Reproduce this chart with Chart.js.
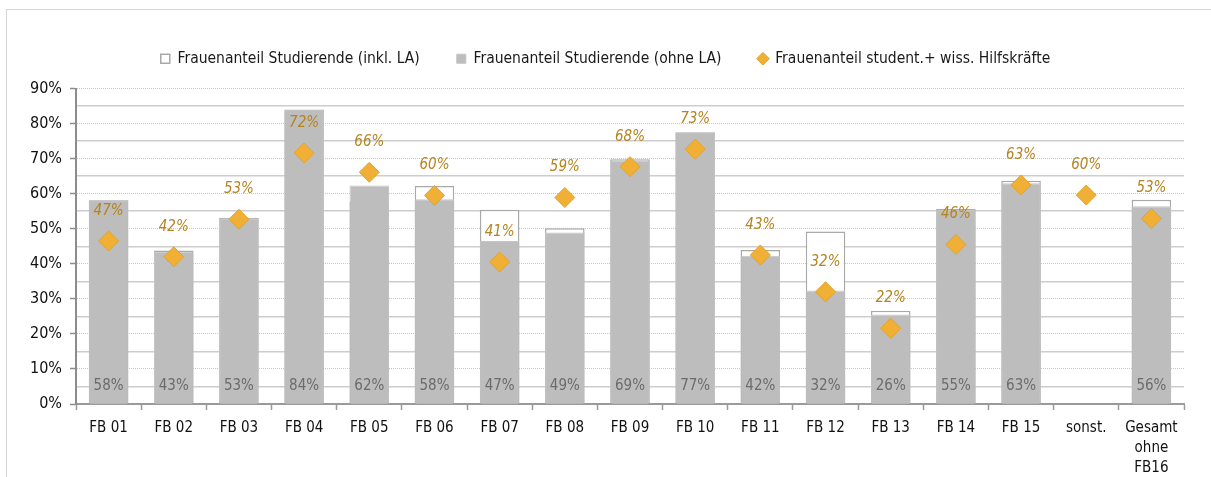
<!DOCTYPE html>
<html>
<head>
<meta charset="utf-8">
<script src="https://cdn.jsdelivr.net/npm/chart.js@4.4.1/dist/chart.umd.min.js"></script>
<style>
  html, body { margin: 0; padding: 0; background: #fff; }
  #wrap { position: relative; width: 1211px; height: 477px; }
  #frame { position: absolute; left: 6px; top: 9px; width: 1205px; height: 468px; border-top: 1px solid #d6d6d6; border-left: 1px solid #d6d6d6; pointer-events: none; }
</style>
</head>
<body>
<div id="wrap">
  <canvas id="genderChart" width="1211" height="477"></canvas>
  <div id="frame"></div>
</div>
<script>
// Frauenanteile je Fachbereich (in %)
const categories = ['FB 01', 'FB 02', 'FB 03', 'FB 04', 'FB 05', 'FB 06', 'FB 07', 'FB 08', 'FB 09',
    'FB 10', 'FB 11', 'FB 12', 'FB 13', 'FB 14', 'FB 15', 'sonst.', ['Gesamt', 'ohne', 'FB16']];
const studInklLA = [58.1, 43.8, 53.1, 84.0, 57.6, 62.2, 55.4, 50.1, 69.8, 77.5, 43.9, 49.2, 26.6, 55.6, 63.7, null, 58.3];
const studOhneLA = [58.1, 43.4, 53.0, 83.9, 62.3, 58.4, 46.5, 48.9, 69.4, 77.4, 42.3, 32.4, 25.5, 55.4, 63.0, null, 56.4];
const hilfskraefte = [46.5, 42.0, 52.7, 71.6, 66.1, 59.5, 40.5, 58.9, 67.7, 72.7, 42.5, 32.0, 21.6, 45.5, 62.5, 59.6, 52.9];
const yMax = 90;

const FONT = "'Liberation Sans Narrow', 'DejaVu Sans Condensed', sans-serif";

// etwas Luft zwischen Legende und Diagramm
const legendGap = {
    id: 'legendGap',
    beforeInit(chart) {
        const fit = chart.legend.fit;
        chart.legend.fit = function () {
            fit.call(this);
            this.height += 12;
        };
    }
};

// Prozentwerte in die Balken bzw. über die Rauten schreiben
const valueLabels = {
    id: 'valueLabels',
    afterDatasetsDraw(chart) {
        const ctx = chart.ctx;
        const yScale = chart.scales.y;
        ctx.save();
        ctx.textAlign = 'center';
        ctx.textBaseline = 'middle';

        ctx.font = '15px ' + FONT;
        ctx.fillStyle = '#6b6b6b';
        chart.getDatasetMeta(1).data.forEach((bar, i) => {
            const v = studOhneLA[i];
            if (v == null) return;
            ctx.fillText(Math.round(v) + '%', bar.x, yScale.bottom - 18);
        });

        ctx.font = 'italic 15px ' + FONT;
        ctx.fillStyle = '#b5831f';
        chart.getDatasetMeta(2).data.forEach((pt, i) => {
            const v = hilfskraefte[i];
            if (v == null) return;
            ctx.fillText(Math.round(v) + '%', pt.x, pt.y - 30);
        });
        ctx.restore();
    }
};

new Chart(document.getElementById('genderChart'), {
    data: {
        labels: categories,
        datasets: [
            {
                type: 'bar',
                label: 'Frauenanteil Studierende (inkl. LA)',
                data: studInklLA,
                backgroundColor: '#ffffff',
                borderColor: '#a9a9a9',
                borderWidth: 1.5,
                pointStyle: 'rect',
                grouped: false,
                barPercentage: 0.607,
                categoryPercentage: 1,
                order: 3
            },
            {
                type: 'bar',
                label: 'Frauenanteil Studierende (ohne LA)',
                data: studOhneLA,
                backgroundColor: '#bdbdbd',
                borderColor: '#c4c4c4',
                borderWidth: 1,
                pointStyle: 'rect',
                grouped: false,
                barPercentage: 0.607,
                categoryPercentage: 1,
                order: 2
            },
            {
                type: 'line',
                label: 'Frauenanteil student.+ wiss. Hilfskräfte',
                data: hilfskraefte,
                showLine: false,
                pointStyle: 'rectRot',
                pointRadius: 10,
                pointHoverRadius: 10,
                pointBackgroundColor: '#efb035',
                pointBorderColor: '#e5a226',
                pointBorderWidth: 1,
                backgroundColor: '#efb035',
                borderColor: '#efb035',
                order: 1
            }
        ]
    },
    options: {
        responsive: false,
        animation: false,
        layout: { padding: { left: 6, right: 6, top: 14, bottom: 0 } },
        plugins: {
            legend: {
                position: 'top',
                labels: {
                    usePointStyle: true,
                    boxWidth: 9,
                    boxHeight: 9,
                    padding: 37,
                    color: '#1a1a1a',
                    font: { family: FONT, size: 15.5 },
                    sort: (a, b) => a.datasetIndex - b.datasetIndex
                }
            },
            tooltip: { enabled: false }
        },
        scales: {
            x: {
                offset: true,
                grid: {
                    offset: true,
                    drawOnChartArea: false,
                    drawTicks: true,
                    tickLength: 6,
                    tickColor: '#9a9a9a',
                    tickWidth: 1.5
                },
                border: { display: true, color: '#9a9a9a', width: 2 },
                ticks: {
                    color: '#111',
                    padding: 8,
                    maxRotation: 0,
                    autoSkip: false,
                    font: { family: FONT, size: 15, lineHeight: 1.33 }
                },
                afterFit: s => { s.height = 73; }
            },
            y: {
                min: 0,
                max: yMax,
                ticks: {
                    stepSize: 5,
                    autoSkip: false,
                    color: '#111',
                    padding: 8,
                    font: { family: FONT, size: 16 },
                    callback: v => (v % 10 === 0 ? v + '%' : '')
                },
                grid: {
                    color: c => (c.tick && c.tick.value % 10 === 0 ? '#c8c8c8' : '#cdcdcd'),
                    lineWidth: c => (c.tick && c.tick.value % 10 === 0 ? 1 : 1.5),
                    tickLength: 6,
                    tickColor: c => (c.tick && c.tick.value % 10 === 0 ? '#8c8c8c' : 'rgba(0,0,0,0)'),
                    tickWidth: 1.5,
                    tickBorderDash: []
                },
                border: {
                    display: true,
                    color: '#8c8c8c',
                    width: 2,
                    dash: c => (c.tick && c.tick.value % 10 === 0 ? [1, 1] : [])
                },
                afterFit: s => { s.width = 70; }
            },
            // leere rechte Achse, damit die Zeichenfläche bei x = 1184 endet
            yRight: {
                position: 'right',
                min: 0,
                max: yMax,
                grid: { display: false },
                border: { display: false },
                ticks: { display: false },
                afterFit: s => { s.width = 21; }
            }
        }
    },
    plugins: [legendGap, valueLabels]
});
</script>
</body>
</html>
